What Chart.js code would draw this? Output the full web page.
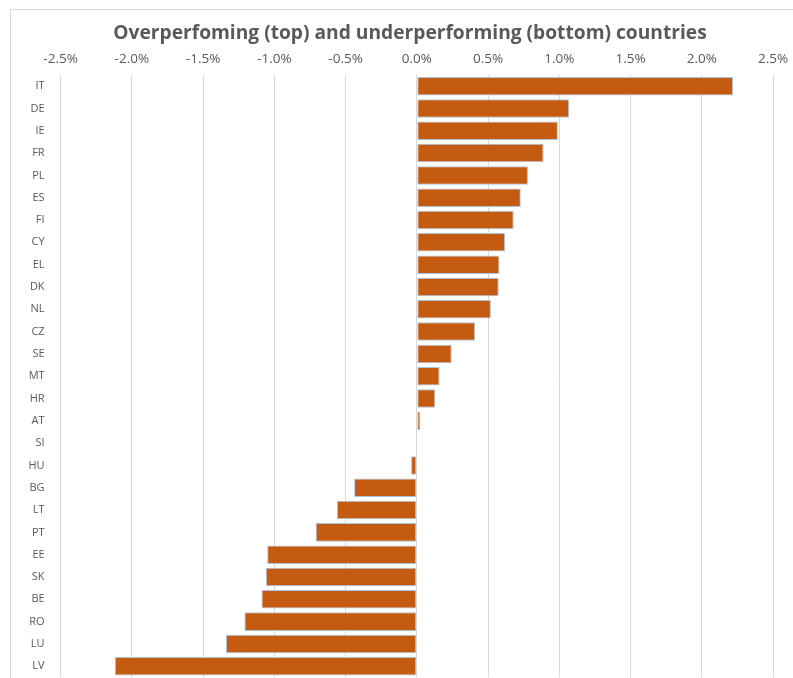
<!DOCTYPE html>
<html>
<head>
<meta charset="utf-8">
<script src="https://cdn.jsdelivr.net/npm/chart.js@4"></script>
<style>
  html, body { margin: 0; padding: 0; overflow: hidden; background: #fff; }
  #frame { position: absolute; left: 10px; top: 9px; width: 820px; height: 720px; border: 1px solid #d9d9d9; }
  #wrap { position: absolute; left: 0; top: 0; width: 793px; height: 700px; }
</style>
</head>
<body>
<div id="frame"></div>
<div id="wrap"><canvas id="perfChart" width="793" height="700"></canvas></div>
<script>
// countries, sorted from best to worst
var countries = ["IT", "DE", "IE", "FR", "PL", "ES", "FI", "CY", "EL", "DK", "NL", "CZ", "SE", "MT",
  "HR", "AT", "SI", "HU", "BG", "LT", "PT", "EE", "SK", "BE", "RO", "LU", "LV"];
// performance gap, in percent
var gapValues = [2.22, 1.07, 0.99, 0.89, 0.78, 0.73, 0.68, 0.62, 0.58, 0.575, 0.52, 0.41, 0.245, 0.16,
  0.13, 0.025, 0.004, -0.04, -0.44, -0.56, -0.71, -1.05, -1.06, -1.09, -1.21, -1.34, -2.12];
var xTicks = [-2.5, -2.0, -1.5, -1.0, -0.5, 0.0, 0.5, 1.0, 1.5, 2.0, 2.5];

var textGrey = "#595959";

// the title in the original sits a bit right of the page centre
var shiftTitle = {
  id: "shiftTitle",
  afterLayout: function (chart) {
    if (chart.titleBlock) chart.titleBlock.left = 47;
  },
};

var perfCtx = document.getElementById("perfChart").getContext("2d");
var perfChart = new Chart(perfCtx, {
  type: "bar",
  data: {
    labels: countries,
    datasets: [
      {
        data: gapValues,
        backgroundColor: "#c55a11",
        borderColor: "#a8c6e4",
        borderWidth: 1,
        borderSkipped: false,
        categoryPercentage: 1,
        barPercentage: 0.83,
      },
    ],
  },
  plugins: [shiftTitle],
  options: {
    indexAxis: "y",
    responsive: false,
    animation: false,
    layout: { padding: { left: 10, right: 20, top: 0, bottom: 21 } },
    plugins: {
      legend: { display: false },
      tooltip: { enabled: false },
      title: {
        display: true,
        text: "Overperfoming (top) and underperforming (bottom) countries",
        color: textGrey,
        font: { family: "Open Sans", size: 19.2, weight: "bold", lineHeight: 1.2 },
        padding: { top: 22, bottom: 1 },
      },
    },
    scales: {
      x: {
        position: "top",
        min: -2.5,
        max: 2.5,
        afterBuildTicks: function (scale) {
          scale.ticks = xTicks.map(function (v) { return { value: v }; });
        },
        afterFit: function (scale) {
          scale.height = 75 - 46.04;
          scale.paddingLeft = 0;
          scale.paddingRight = 0;
        },
        grid: { color: "#d9d9d9", drawTicks: false },
        border: { display: false },
        ticks: {
          color: textGrey,
          padding: 8,
          font: { family: "Open Sans", size: 13.5 },
          callback: function (v) { return v.toFixed(1) + "%"; },
        },
      },
      y: {
        afterFit: function (scale) { scale.width = 50.6; },
        grid: { display: false, drawTicks: false },
        border: { display: false },
        ticks: {
          autoSkip: false,
          color: textGrey,
          padding: 16,
          font: { family: "Open Sans", size: 11 },
        },
      },
    },
  },
});
</script>
</body>
</html>
